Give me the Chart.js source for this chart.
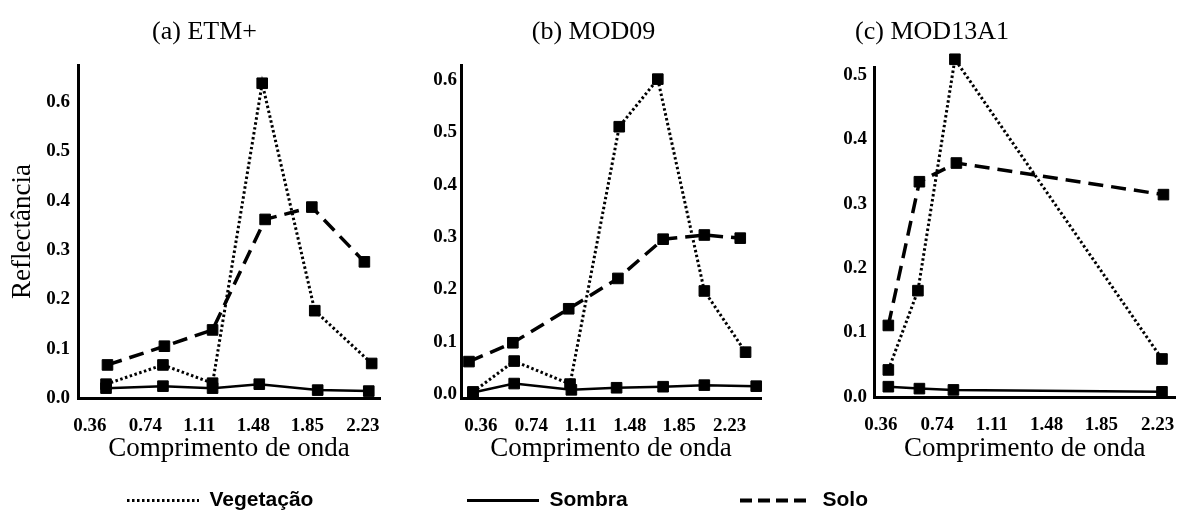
<!DOCTYPE html>
<html><head><meta charset="utf-8">
<script src="https://cdn.jsdelivr.net/npm/chart.js@4.4.1/dist/chart.umd.min.js"></script>
<style>
html,body{margin:0;padding:0;background:#fff;overflow:hidden;width:1182px;height:512px;}
.box{position:absolute;}
</style></head><body>
<div class="box" style="left:0px;top:0px;width:400px;height:480px"><canvas id="ca"></canvas></div>
<div class="box" style="left:420px;top:0px;width:350px;height:480px"><canvas id="cb"></canvas></div>
<div class="box" style="left:680px;top:0px;width:512px;height:480px"><canvas id="cc"></canvas></div>
<div class="box" style="left:127px;top:489.5px;width:260px;height:40px"><canvas id="l0"></canvas></div>
<div class="box" style="left:467px;top:489.5px;width:240px;height:40px"><canvas id="l1"></canvas></div>
<div class="box" style="left:740px;top:489.5px;width:220px;height:40px"><canvas id="l2"></canvas></div>
<script>
const seriesNames = ['Vegetação', 'Sombra', 'Solo'];
const panelTitles = ['(a) ETM+', '(b) MOD09', '(c) MOD13A1'];
const xTickValues = [0.36, 0.74, 1.11, 1.48, 1.85, 2.23];
const yTicksAB = [0, 0.1, 0.2, 0.3, 0.4, 0.5, 0.6];
const yTicksC = [0, 0.1, 0.2, 0.3, 0.4, 0.5];
const xTitle = 'Comprimento de onda';
const yTitle = 'Reflectância';

// (a) ETM+
const etmVegX = [0.47, 0.86, 1.20, 1.54, 1.90, 2.29];
const etmVegY = [0.028, 0.067, 0.030, 0.638, 0.177, 0.070];
const etmSomX = [0.47, 0.86, 1.20, 1.52, 1.92, 2.27];
const etmSomY = [0.020, 0.024, 0.020, 0.028, 0.016, 0.014];
const etmSolX = [0.48, 0.87, 1.20, 1.56, 1.88, 2.24];
const etmSolY = [0.067, 0.105, 0.138, 0.362, 0.387, 0.276];

// (b) MOD09
const modVegX = [0.30, 0.61, 1.03, 1.40, 1.69, 2.04, 2.35];
const modVegY = [0.004, 0.063, 0.019, 0.511, 0.602, 0.197, 0.080];
const modSomX = [0.30, 0.61, 1.04, 1.38, 1.73, 2.04, 2.43];
const modSomY = [0.003, 0.020, 0.008, 0.012, 0.014, 0.017, 0.015];
const modSolX = [0.27, 0.60, 1.02, 1.39, 1.73, 2.04, 2.31];
const modSolY = [0.062, 0.098, 0.163, 0.221, 0.296, 0.304, 0.298];

// (c) MOD13A1
const m13VegX = [0.41, 0.61, 0.86, 2.26];
const m13VegY = [0.042, 0.165, 0.524, 0.059];
const m13SomX = [0.41, 0.62, 0.85, 2.26];
const m13SomY = [0.016, 0.013, 0.011, 0.008];
const m13SolX = [0.41, 0.62, 0.87, 2.27];
const m13SolY = [0.111, 0.334, 0.363, 0.314];

const SERIF = '"Liberation Serif", "Times New Roman", serif';
const SANS = '"Liberation Sans", Arial, sans-serif';
const lineStyles = [
  {dash: [2.5, 2.5], width: 3},
  {dash: [], width: 2.5},
  {dash: [15, 8], width: 3.5}
];
const legendStyles = [
  {dash: [2.5, 2.5], width: 3},
  {dash: [], width: 3},
  {dash: [12, 6], width: 4}
];

function makePanel(id, cfg) {
  const pts = (xs, ys) => xs.map((x, i) => ({x: x, y: ys[i]}));
  const datasets = cfg.series.map((s, k) => ({
    label: seriesNames[k],
    data: pts(s[0], s[1]),
    borderColor: '#000', backgroundColor: '#000',
    borderWidth: lineStyles[k].width, borderDash: lineStyles[k].dash,
    pointStyle: 'rect', pointRadius: 7.5, pointBorderWidth: 1,
    pointBackgroundColor: '#000', pointBorderColor: '#000',
    tension: 0, clip: false, fill: false
  }));
  new Chart(document.getElementById(id), {
    type: 'line',
    data: {datasets: datasets},
    options: {
      responsive: true, maintainAspectRatio: false, animation: false, events: [],
      layout: {padding: {left: cfg.padL, right: cfg.padR, top: 0, bottom: 0}},
      plugins: {
        legend: {display: false}, tooltip: {enabled: false},
        title: {display: true, text: cfg.title, color: '#000',
          font: {family: SERIF, size: 26, weight: 'normal'},
          padding: {top: 16.4, bottom: cfg.titleGap}}
      },
      scales: {
        x: {
          type: 'linear', min: cfg.xmin, max: cfg.xmax,
          afterBuildTicks: s => { s.ticks = xTickValues.map(v => ({value: v})); },
          afterFit: s => { s.height = cfg.xh; },
          grid: {display: false, drawTicks: false},
          border: {display: true, color: '#000', width: 3},
          ticks: {autoSkip: false, maxRotation: 0, minRotation: 0, padding: 17, color: '#000',
            font: {family: SERIF, size: 19, weight: 'bold'},
            callback: v => Number(v).toFixed(2)},
          title: {display: true, text: xTitle, color: '#000',
            font: {family: SERIF, size: 27, weight: 'normal'},
            padding: {top: 0, bottom: 15}}
        },
        y: {
          type: 'linear', min: cfg.ymin, max: cfg.ymax,
          afterBuildTicks: s => { s.ticks = cfg.yticks.map(v => ({value: v})); },
          afterFit: s => { s.width = cfg.yw; },
          grid: {display: false, drawTicks: false},
          border: {display: true, color: '#000', width: 3},
          ticks: {autoSkip: false, padding: cfg.ypad, color: '#000',
            font: {family: SERIF, size: 19, weight: 'bold'},
            callback: v => Number(v).toFixed(1)},
          title: cfg.ytitle ? {display: true, text: yTitle, color: '#000',
            font: {family: SERIF, size: 27, weight: 'normal'},
            padding: {top: -22.2, bottom: 0}} : {display: false}
        }
      }
    }
  });
}

makePanel('ca', {
  title: panelTitles[0],
  series: [[etmVegX, etmVegY], [etmSomX, etmSomY], [etmSolX, etmSolY]],
  padL: 29, padR: 20, yw: 49, xh: 82, titleGap: 17.4, ypad: 8,
  xmin: 0.278, xmax: 2.347, ymin: 0, ymax: 0.675, yticks: yTicksAB, ytitle: true
});
makePanel('cb', {
  title: panelTitles[1],
  series: [[modVegX, modVegY], [modSomX, modSomY], [modSolX, modSolY]],
  padL: 6, padR: 9, yw: 35, xh: 82, titleGap: 17.4, ypad: 4,
  xmin: 0.21, xmax: 2.466, ymin: -0.0076, ymax: 0.629, yticks: yTicksAB, ytitle: false
});
makePanel('cc', {
  title: panelTitles[2],
  series: [[m13VegX, m13VegY], [m13SomX, m13SomY], [m13SolX, m13SolY]],
  padL: 6, padR: 14, yw: 188, xh: 83, titleGap: 19.4, ypad: 7,
  xmin: 0.313, xmax: 2.351, ymin: 0, ymax: 0.512, yticks: yTicksC, ytitle: false
});

function makeLegend(id, k) {
  new Chart(document.getElementById(id), {
    type: 'line',
    data: {datasets: [{label: seriesNames[k], data: [], borderColor: '#000',
      borderWidth: legendStyles[k].width, borderDash: legendStyles[k].dash}]},
    options: {
      responsive: true, maintainAspectRatio: false, animation: false, events: [],
      layout: {padding: 0},
      scales: {x: {display: false}, y: {display: false}},
      plugins: {
        tooltip: {enabled: false},
        legend: {display: true, position: 'top', align: 'start',
          labels: {usePointStyle: true, pointStyleWidth: 72, padding: 0, color: '#000',
            font: {family: SANS, size: 21, weight: 'bold'},
            generateLabels: ch => ch.data.datasets.map((d, i) => ({
              text: d.label, datasetIndex: i, pointStyle: 'line',
              lineWidth: d.borderWidth, lineDash: d.borderDash,
              strokeStyle: '#000', fillStyle: '#000', fontColor: '#000', hidden: false
            }))
          }
        }
      }
    }
  });
}
makeLegend('l0', 0);
makeLegend('l1', 1);
makeLegend('l2', 2);
</script>
</body></html>
